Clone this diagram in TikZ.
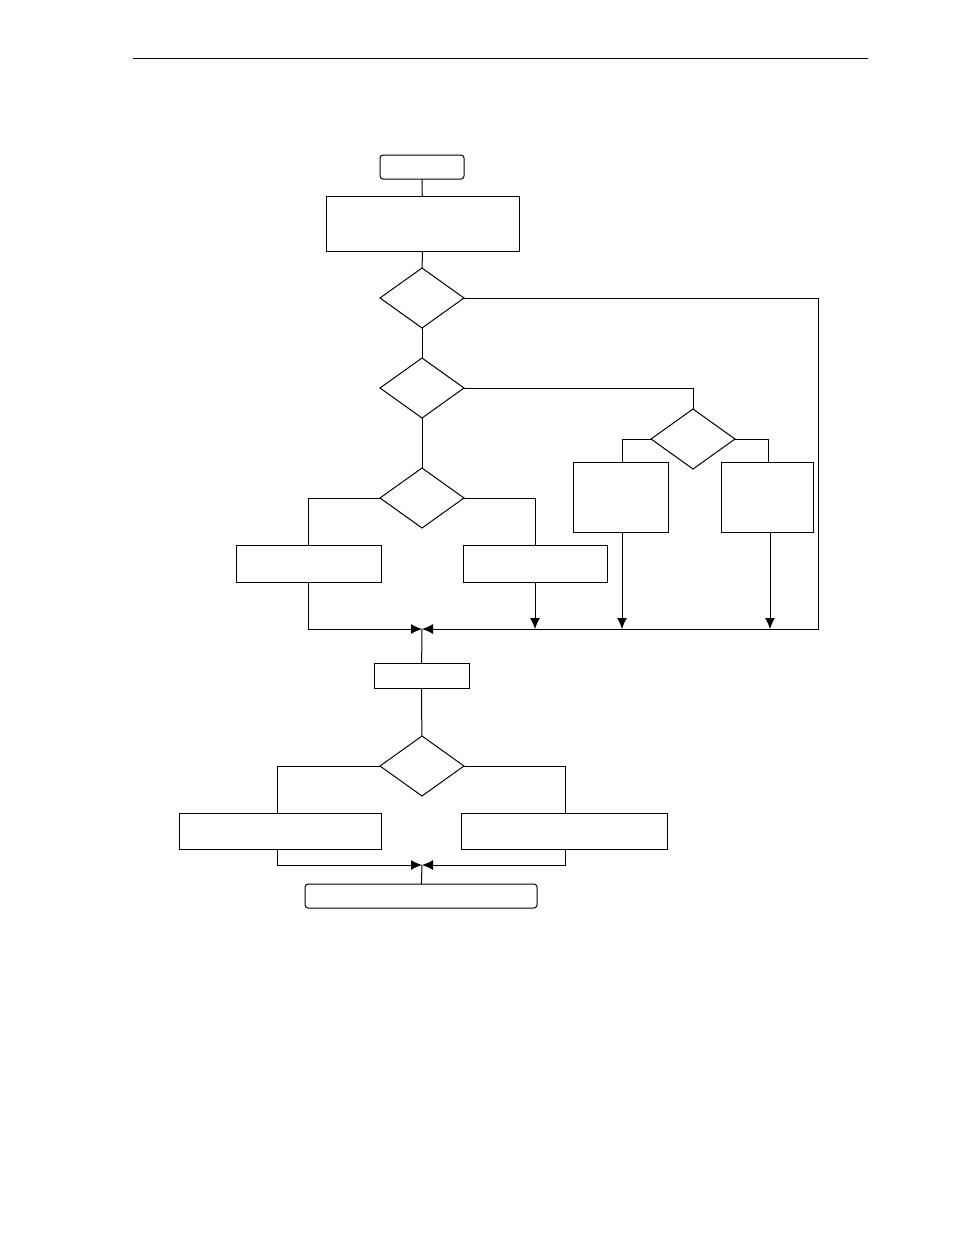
\documentclass[tikz,border=0pt]{standalone}
\usetikzlibrary{shapes.geometric,arrows.meta}
\begin{document}
\begin{tikzpicture}[x=1pt,y=-1pt,line width=1pt,
  box/.style={draw,rectangle,inner sep=0pt,outer sep=0pt},
  rbox/.style={draw,rectangle,rounded corners=3pt,inner sep=0pt,outer sep=0pt},
  dec/.style={draw,diamond,inner sep=0pt,outer sep=0pt,minimum width=84pt,minimum height=60pt},
  arr/.style={-{Latex[length=11pt,width=10pt]}}]
\useasboundingbox (0,0) rectangle (954,1235);
\coordinate (hl) at (133,58);
\coordinate (hr) at (868,58);
\draw[line width=0.8pt] (hl) -- (hr);
% nodes
\node[rbox,minimum width=84pt,minimum height=24pt] (start) at (422,167) {};
\node[box,minimum width=193pt,minimum height=55pt] (b1) at (422.5,223.5) {};
\node[dec] (d1) at (422,298) {};
\node[dec] (d2) at (422,388) {};
\node[dec] (d3) at (693,439) {};
\node[box,minimum width=95pt,minimum height=70pt] (b3l) at (620.5,497) {};
\node[box,minimum width=92pt,minimum height=70pt] (b3r) at (767,497) {};
\node[dec] (d4) at (422,498) {};
\node[box,minimum width=145pt,minimum height=37pt] (b4l) at (308.5,563.5) {};
\node[box,minimum width=144pt,minimum height=37pt] (b4r) at (535,563.5) {};
\coordinate (m) at (422,629);
\node[box,minimum width=95pt,minimum height=25pt] (b5) at (421.5,675.5) {};
\node[dec] (d5) at (422,766) {};
\node[box,minimum width=202pt,minimum height=36pt] (b6l) at (280,831) {};
\node[box,minimum width=206pt,minimum height=36pt] (b6r) at (564,831) {};
\coordinate (m2) at (422,865);
\node[rbox,minimum width=232pt,minimum height=24pt] (end) at (421,896) {};
\coordinate (r1) at (818,298);
% connectors
\draw (start) -- (b1);
\draw (b1) -- (d1);
\draw (d1) -- (d2);
\draw (d2) -- (d4);
\draw (d2.east) -| (d3.north);
\draw (d3.west) -| ([xshift=1.5pt]b3l.north);
\draw (d3.east) -| ([xshift=1pt]b3r.north);
\draw[arr] ([xshift=1.5pt]b3l.south) -- ([xshift=1.5pt]b3l.south |- m);
\draw[arr] ([xshift=3pt]b3r.south) -- ([xshift=3pt]b3r.south |- m);
\draw (d4.west) -| (b4l.north);
\draw (d4.east) -| (b4r.north);
\draw[arr] (b4r.south) -- (b4r.south |- m);
\draw[arr] (b4l.south) |- (m);
\draw[arr] (d1.east) -- (r1) |- (m);
\draw (m) -- (b5);
\draw (b5) -- (d5);
\draw (d5.west) -| ([xshift=-3pt]b6l.north);
\draw (d5.east) -| ([xshift=1pt]b6r.north);
\draw[arr] ([xshift=-3pt]b6l.south) |- (m2);
\draw[arr] ([xshift=1pt]b6r.south) |- (m2);
\draw (m2) -- (end);
\end{tikzpicture}
\end{document}
